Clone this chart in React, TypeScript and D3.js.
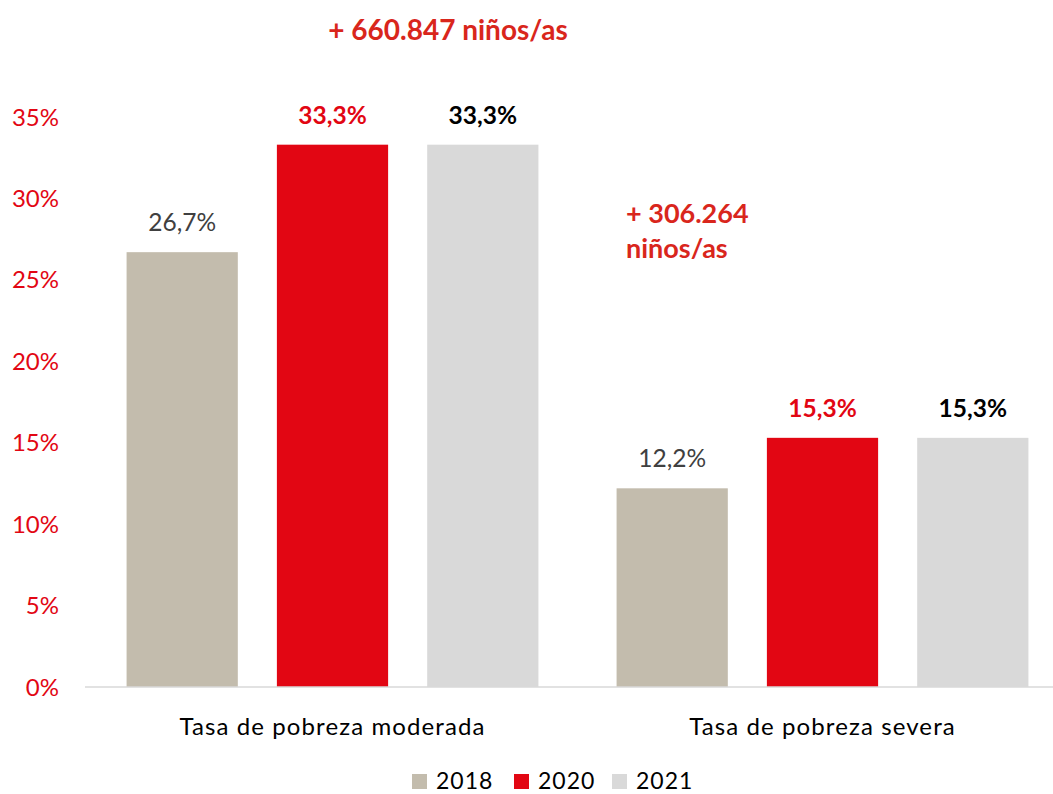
import React, { useEffect, useRef } from 'react';
import * as d3 from 'd3';

const categories = ['Tasa de pobreza moderada', 'Tasa de pobreza severa'];
const years = ['2018', '2020', '2021'];
const values2018 = [26.7, 12.2];
const values2020 = [33.3, 15.3];
const values2021 = [33.3, 15.3];
const yTicks = [0, 5, 10, 15, 20, 25, 30, 35];
const notes = [
  { cat: 0, lines: ['+ 660.847 niños/as'] },
  { cat: 1, lines: ['+ 306.264', 'niños/as'] },
];

const barColors = ['#c3bcad', '#e20613', '#d9d9d9'];
const labelColors = ['#404040', '#e20613', '#000000'];
const labelWeights = ['normal', 'bold', 'bold'];
const red = '#e20613';
const font = 'Lato, "Noto Sans", sans-serif';

const W = 1053;
const H = 794;

const App = () => {
  const ref = useRef<SVGSVGElement>(null);

  useEffect(() => {
    const svg = d3.select(ref.current);
    svg.selectAll('*').remove();

    const series = [values2018, values2020, values2021];

    const y = d3.scaleLinear().domain([0, 35]).range([687, 117]);
    const x0 = d3.scaleBand().domain(categories).range([87.5, 1067.5]);
    const x1 = d3
      .scaleBand()
      .domain(years)
      .range([0, x0.bandwidth()])
      .padding(0.26);

    // y tick labels
    svg
      .append('g')
      .selectAll('text')
      .data(yTicks)
      .enter()
      .append('text')
      .attr('x', 59)
      .attr('y', d => y(d))
      .attr('dy', '0.36em')
      .attr('text-anchor', 'end')
      .attr('fill', red)
      .attr('font-size', 24)
      .attr('font-family', font)
      .text(d => d + '%');

    // bars
    years.forEach((yr, i) => {
      const g = svg.append('g');
      g.selectAll('rect')
        .data(series[i])
        .enter()
        .append('rect')
        .attr('x', (d, j) => x0(categories[j])! + x1(yr)!)
        .attr('y', d => y(d))
        .attr('width', x1.bandwidth())
        .attr('height', d => y(0) - y(d))
        .attr('fill', barColors[i]);

      g.selectAll('text')
        .data(series[i])
        .enter()
        .append('text')
        .attr('x', (d, j) => x0(categories[j])! + x1(yr)! + x1.bandwidth() / 2)
        .attr('y', d => y(d) - 21)
        .attr('text-anchor', 'middle')
        .attr('fill', labelColors[i])
        .attr('font-weight', labelWeights[i])
        .attr('font-size', 24.5)
        .attr('font-family', font)
        .text(d => d.toFixed(1).replace('.', ',') + '%');
    });

    // baseline
    svg
      .append('line')
      .attr('x1', 85)
      .attr('x2', W)
      .attr('y1', y(0))
      .attr('y2', y(0))
      .attr('stroke', '#d9d9d9')
      .attr('stroke-width', 1.5);

    // category labels
    svg
      .append('g')
      .selectAll('text')
      .data(categories)
      .enter()
      .append('text')
      .attr('x', d => x0(d)! + x0.bandwidth() / 2)
      .attr('y', 735)
      .attr('text-anchor', 'middle')
      .attr('fill', '#000')
      .attr('font-size', 24)
      .attr('letter-spacing', 1.1)
      .attr('font-family', font)
      .text(d => d);

    // annotations
    svg
      .append('text')
      .attr('x', 448)
      .attr('y', 40)
      .attr('text-anchor', 'middle')
      .attr('fill', '#d9261c')
      .attr('font-weight', 'bold')
      .attr('font-size', 28)
      .attr('font-family', font)
      .text(notes[0].lines[0]);

    const n2 = svg
      .append('text')
      .attr('y', 223)
      .attr('fill', '#d9261c')
      .attr('font-weight', 'bold')
      .attr('font-size', 27)
      .attr('font-family', font);
    notes[1].lines.forEach((l, i) => {
      n2.append('tspan')
        .attr('x', 626)
        .attr('dy', i === 0 ? 0 : 35)
        .text(l);
    });

    // legend
    const legendX = [412, 514, 612];
    const lg = svg.append('g');
    years.forEach((yr, i) => {
      lg.append('rect')
        .attr('x', legendX[i])
        .attr('y', 774)
        .attr('width', 15)
        .attr('height', 15)
        .attr('fill', barColors[i]);
      lg.append('text')
        .attr('x', legendX[i] + 24)
        .attr('y', 789)
        .attr('fill', '#000')
        .attr('font-size', 23)
        .attr('letter-spacing', 1)
        .attr('font-family', font)
        .text(yr);
    });
  }, []);

  return (
    <svg
      width={W}
      height={H}
      ref={ref}
      style={{ position: 'absolute', left: 0, top: 0, background: '#fff' }}
    />
  );
};

export default App;
